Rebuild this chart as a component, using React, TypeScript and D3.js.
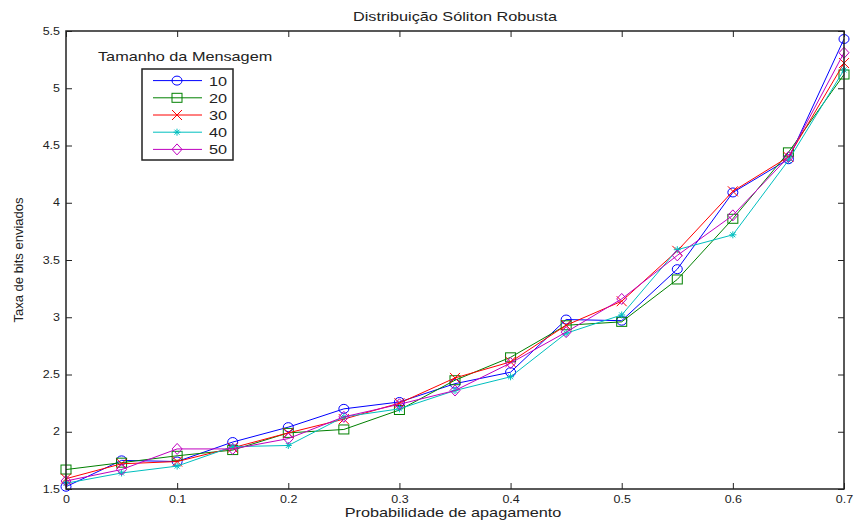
import React, { useEffect, useRef } from 'react';
import * as d3 from 'd3';

const probs = [0, 0.05, 0.1, 0.15, 0.2, 0.25, 0.3, 0.35, 0.4, 0.45, 0.5, 0.55, 0.6, 0.65, 0.7];
const sizeLabels = ['10', '20', '30', '40', '50'];

const taxa10 = [1.52, 1.75, 1.74, 1.91, 2.04, 2.2, 2.26, 2.42, 2.52, 2.98, 2.97, 3.42, 4.09, 4.38, 5.43];
const taxa20 = [1.67, 1.73, 1.79, 1.84, 1.99, 2.02, 2.19, 2.45, 2.65, 2.93, 2.96, 3.33, 3.86, 4.44, 5.12];
const taxa30 = [1.59, 1.72, 1.74, 1.86, 1.99, 2.11, 2.25, 2.47, 2.61, 2.93, 3.14, 3.58, 4.1, 4.4, 5.22];
const taxa40 = [1.55, 1.64, 1.7, 1.87, 1.88, 2.13, 2.2, 2.36, 2.48, 2.86, 3.02, 3.59, 3.72, 4.37, 5.16];
const taxa50 = [1.57, 1.67, 1.85, 1.85, 1.94, 2.13, 2.24, 2.36, 2.6, 2.87, 3.16, 3.54, 3.89, 4.4, 5.31];

const xTicks = [0, 0.1, 0.2, 0.3, 0.4, 0.5, 0.6, 0.7];
const yTicks = [1.5, 2, 2.5, 3, 3.5, 4, 4.5, 5, 5.5];

const colors = ['#0000ff', '#008000', '#ff0000', '#00bfbf', '#bf00bf'];
const markers = ['circle', 'square', 'x', 'star', 'diamond'];

// the picture is stretched sideways, so text is too
const SX = 1.25;

function drawMarker(g, type, color) {
    if (type === 'circle') {
        g.append('ellipse').attr('rx', 5).attr('ry', 4.5).attr('fill', 'none').attr('stroke', color);
    } else if (type === 'square') {
        g.append('rect').attr('x', -5).attr('y', -4.5).attr('width', 10).attr('height', 9)
            .attr('fill', 'none').attr('stroke', color);
    } else if (type === 'x') {
        g.append('path').attr('d', 'M-5,-5L5,5M-5,5L5,-5').attr('stroke', color);
    } else if (type === 'star') {
        g.append('path').attr('d', 'M-3.5,0L3.5,0M0,-3.5L0,3.5M-2.5,-2.5L2.5,2.5M-2.5,2.5L2.5,-2.5')
            .attr('stroke', color);
    } else {
        g.append('path').attr('d', 'M0,-5.5L5,0L0,5.5L-5,0Z').attr('fill', 'none').attr('stroke', color);
    }
}

function App() {
    const chartRef = useRef(null);

    useEffect(() => {
        const svg = d3.select(chartRef.current);
        svg.selectAll('*').remove();

        const left = 66, right = 844, top = 31, bottom = 489;
        const font = 'Arial, "Liberation Sans", sans-serif';
        const textColor = '#222';

        const label = (x, y, txt, anchor = 'start', size = 13) =>
            svg.append('text')
                .attr('transform', `translate(${x},${y}) scale(${SX},1)`)
                .attr('text-anchor', anchor)
                .attr('font-family', font).attr('font-size', size).attr('fill', textColor)
                .text(txt);

        const x = d3.scaleLinear().domain([0, 0.7]).range([left, right]);
        const y = d3.scaleLinear().domain([1.5, 5.5]).range([bottom, top]);

        svg.append('rect').attr('width', 857).attr('height', 522).attr('fill', '#fff');

        const series = [taxa10, taxa20, taxa30, taxa40, taxa50];
        const line = d3.line().x((d, i) => x(probs[i])).y(d => y(d));

        series.forEach((vals, k) => {
            svg.append('path')
                .datum(vals)
                .attr('d', line)
                .attr('fill', 'none')
                .attr('stroke', colors[k])
                .attr('stroke-width', 1);
            vals.forEach((v, i) => {
                const g = svg.append('g')
                    .attr('transform', `translate(${x(probs[i])},${y(v)})`)
                    .attr('stroke-width', 1);
                drawMarker(g, markers[k], colors[k]);
            });
        });

        // axes box with inward ticks (MATLAB style)
        const axisG = svg.append('g').attr('font-family', font).attr('font-size', 13);
        const xAxis = d3.axisBottom(x).tickValues(xTicks).tickSizeInner(-6).tickSizeOuter(0)
            .tickPadding(7).tickFormat(d3.format('~g'));
        const yAxis = d3.axisLeft(y).tickValues(yTicks).tickSizeInner(-6).tickSizeOuter(0)
            .tickPadding(6).tickFormat(d3.format('~g'));
        axisG.append('g').attr('transform', `translate(0,${bottom})`).call(xAxis);
        const yg = axisG.append('g').attr('transform', `translate(${left},0)`).call(yAxis);
        axisG.append('g').attr('transform', `translate(0,${top})`)
            .call(d3.axisTop(x).tickValues(xTicks).tickSizeInner(-6).tickSizeOuter(0).tickFormat(() => ''));
        axisG.append('g').attr('transform', `translate(${right},0)`)
            .call(d3.axisRight(y).tickValues(yTicks).tickSizeInner(-6).tickSizeOuter(0).tickFormat(() => ''));
        axisG.selectAll('.domain').remove();
        axisG.selectAll('.tick line').attr('stroke', '#222');
        axisG.selectAll('.tick text').attr('fill', textColor).attr('transform', `scale(${SX},1)`);
        yg.selectAll('.tick text').attr('x', -6 / SX);

        svg.append('rect')
            .attr('x', left).attr('y', top)
            .attr('width', right - left).attr('height', bottom - top)
            .attr('fill', 'none').attr('stroke', '#222').attr('stroke-width', 1.5);

        label(455, 21, 'Distribuição Sóliton Robusta', 'middle');
        label(453, 517, 'Probabilidade de apagamento', 'middle');

        svg.append('text')
            .attr('transform', 'translate(23,260) rotate(-90)')
            .attr('text-anchor', 'middle')
            .attr('font-family', font).attr('font-size', 13).attr('fill', textColor)
            .text('Taxa de bits enviados');

        // legend
        label(98, 61, 'Tamanho da Mensagem');

        svg.append('rect')
            .attr('x', 142).attr('y', 69).attr('width', 91).attr('height', 91)
            .attr('fill', '#fff').attr('stroke', '#222').attr('stroke-width', 1.5);

        const legendY = d3.scaleBand().domain(sizeLabels).range([72, 158]);
        sizeLabels.forEach((lbl, k) => {
            const cy = legendY(lbl) + legendY.bandwidth() / 2;
            svg.append('line')
                .attr('x1', 153).attr('x2', 202).attr('y1', cy).attr('y2', cy)
                .attr('stroke', colors[k]).attr('stroke-width', 1);
            const g = svg.append('g').attr('transform', `translate(177,${cy})`);
            drawMarker(g, markers[k], colors[k]);
            label(209, cy + 5, lbl);
        });
    }, []);

    return (
        <svg
            ref={chartRef}
            width={857}
            height={522}
            style={{ position: 'absolute', left: 0, top: 0 }}
        />
    );
}

export default App;
